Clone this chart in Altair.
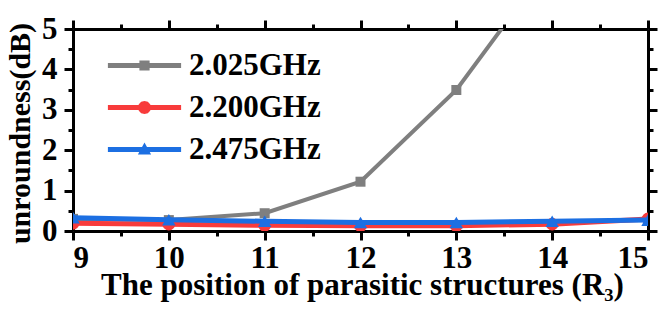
import altair as alt
import pandas as pd

# ---------------- data ----------------
positions = [9, 10, 11, 12, 13, 14, 15]
series_names = ["2.025GHz", "2.200GHz", "2.475GHz"]
gray_vals = [0.30, 0.27, 0.44, 1.22, 3.49, 6.70]          # 14 lies above the frame
red_vals = [0.19, 0.17, 0.14, 0.13, 0.13, 0.17, 0.30]
blue_vals = [0.33, 0.28, 0.24, 0.21, 0.21, 0.24, 0.27]

x_ticks = [9, 10, 11, 12, 13, 14, 15]
x_minor = [9.5, 10.5, 11.5, 12.5, 13.5, 14.5]
y_ticks = [0, 1, 2, 3, 4, 5]
y_minor = [0.5, 1.5, 2.5, 3.5, 4.5]

colors = ["#7F7F7F", "#F83B3B", "#1C6FE2"]
marker_shapes = ["square", "circle", "triangle-up"]
marker_sizes = [100, 160, 180]
line_widths = [4, 5, 5]

# legend symbols: line segment + marker (custom paths, unit = sqrt(symbolSize)/2)
LINE = "M-6.1,-0.4L6.1,-0.4L6.1,0.4L-6.1,0.4Z"
legend_paths = [
    LINE + "M-0.85,-0.85L0.85,-0.85L0.85,0.85L-0.85,0.85Z",
    LINE + "M-1.1,0L-0.95,-0.55L-0.55,-0.95L0,-1.1L0.55,-0.95L0.95,-0.55L1.1,0"
           "L0.95,0.55L0.55,0.95L0,1.1L-0.55,0.95L-0.95,0.55Z",
    LINE + "M0,-1.15L1.1,0.85L-1.1,0.85Z",
]

rows = []
for name, vals in zip(series_names, [gray_vals, red_vals, blue_vals]):
    for p, v in zip(positions, vals):
        rows.append({"pos": p, "val": v, "series": name})
df = pd.DataFrame(rows)

FONT = "Liberation Serif"

x_scale = alt.Scale(domain=[9, 15], nice=False, zero=False)
y_scale = alt.Scale(domain=[0, 5], nice=False, zero=False)
color_scale = alt.Scale(domain=series_names, range=colors)

ax_x = [
    alt.Axis(orient="bottom", values=x_ticks, tickSize=9, labelPadding=3,
             labelFontSize=31, format="d",
             title="The position of parasitic structures (R\u2083)",
             titleFontSize=31, titleX=289, titleY=63, titleAlign="center",
             titleBaseline="alphabetic"),
    alt.Axis(orient="top", values=x_ticks, tickSize=9, labels=False, title=""),
    alt.Axis(orient="bottom", values=x_minor, tickSize=5, labels=False, domain=False, title=""),
    alt.Axis(orient="top", values=x_minor, tickSize=5, labels=False, domain=False, title=""),
]
ax_y = [
    alt.Axis(orient="left", values=y_ticks, tickSize=9, labelPadding=7,
             labelFontSize=31, format="d",
             title="unroundness(dB)", titleFontSize=30, titleAngle=-90,
             titleX=-44, titleY=104, titleAlign="center", titleBaseline="alphabetic"),
    alt.Axis(orient="right", values=y_ticks, tickSize=9, labels=False, title=""),
    alt.Axis(orient="left", values=y_minor, tickSize=5, labels=False, domain=False, title=""),
    alt.Axis(orient="right", values=y_minor, tickSize=5, labels=False, domain=False, title=""),
]

legend_def = alt.Legend(
    title=None, orient="none", legendX=56, legendY=21, padding=0,
    labelFont=FONT, labelFontWeight="bold", labelFontSize=31, labelColor="black",
    symbolSize=144, symbolStrokeWidth=0,
    labelOffset=29, rowPadding=10,
)

layers = []
for i, name in enumerate(series_names):
    layer = (
        alt.Chart(df)
        .transform_filter(alt.datum.series == name)
        .mark_line(strokeWidth=line_widths[i], clip=True,
                   point=alt.OverlayMarkDef(shape=marker_shapes[i], size=marker_sizes[i],
                                            filled=True, opacity=1, clip=True))
        .encode(
            x=alt.X("pos:Q", scale=x_scale, axis=ax_x[i]),
            y=alt.Y("val:Q", scale=y_scale, axis=ax_y[i]),
            color=alt.Color("series:N", scale=color_scale, legend=legend_def),
        )
    )
    layers.append(layer)

# legend-only layer: its own points are pushed outside the clipped frame
legend_layer = (
    alt.Chart(df)
    .transform_calculate(hidden="-100")
    .mark_point(filled=True, clip=True)
    .encode(
        x=alt.X("pos:Q", scale=x_scale, axis=ax_x[3]),
        y=alt.Y("hidden:Q", scale=y_scale, axis=ax_y[3]),
        color=alt.Color("series:N", scale=color_scale, legend=legend_def),
        shape=alt.Shape("series:N", scale=alt.Scale(domain=series_names, range=legend_paths),
                        legend=legend_def),
    )
)
layers.append(legend_layer)

chart = (
    alt.layer(*layers)
    .resolve_axis(x="independent", y="independent")
    .properties(
        width=575, height=202,
        autosize=alt.AutoSizeParams(type="none"),
        padding={"left": 73, "top": 29, "right": 23, "bottom": 82},
        background="white",
    )
    .configure_view(strokeWidth=0)
    .configure_axis(
        labelFont=FONT, labelFontWeight="bold", labelColor="black",
        titleFont=FONT, titleFontWeight="bold", titleColor="black",
        domainColor="black", domainWidth=3, tickColor="black", tickWidth=3,
        grid=False,
    )
)

chart.save("out.html", embed_options={"renderer": "svg", "actions": False})
